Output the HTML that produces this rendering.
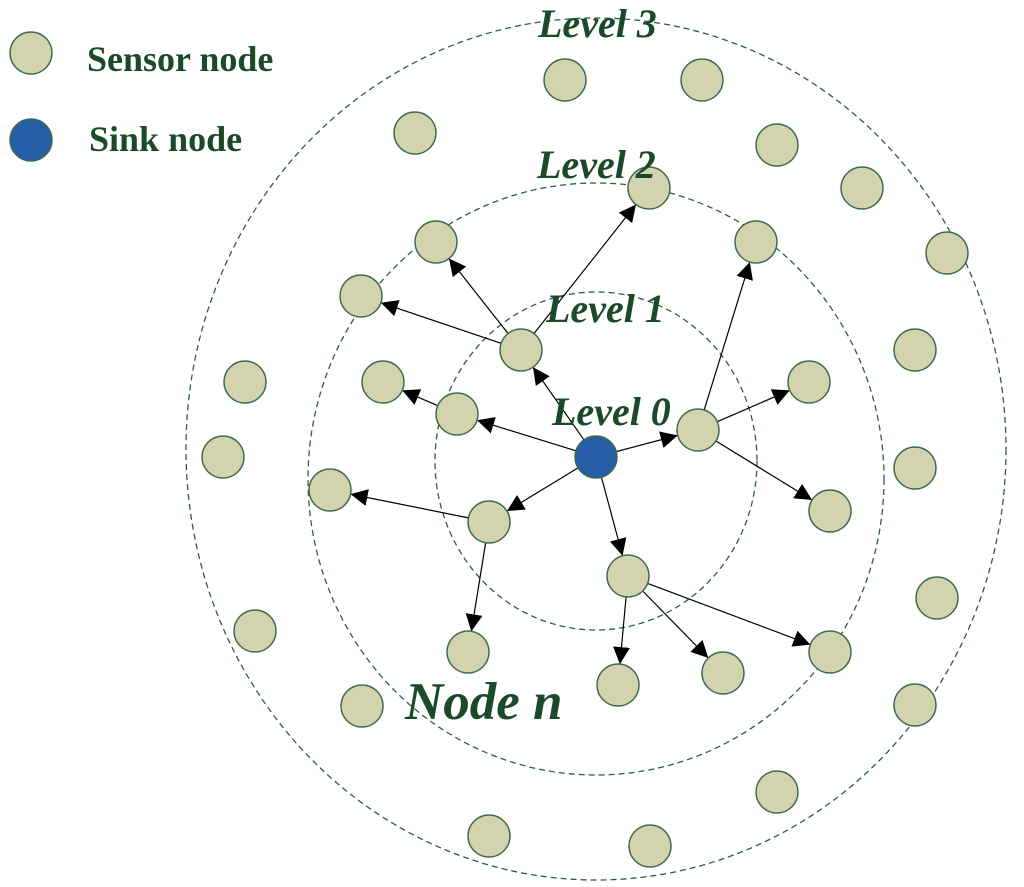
<!DOCTYPE html>
<html><head><meta charset="utf-8"><style>
html,body{margin:0;padding:0;background:#fff;}
svg{display:block;}
text{font-family:"Liberation Serif",serif;font-weight:bold;fill:#1b4a2a;}
</style></head><body>
<svg id="s" width="1024" height="887" viewBox="0 0 1024 887" xmlns="http://www.w3.org/2000/svg">
<defs><marker id="a" viewBox="0 0 10 10" refX="10" refY="5" markerWidth="17" markerHeight="17" markerUnits="userSpaceOnUse" orient="auto"><path d="M0,0 L10,5 L0,10 z" fill="#000"/></marker></defs>
<g fill="none" stroke="#2f5e42" stroke-width="1.3" stroke-dasharray="6,4">
<ellipse cx="596" cy="461" rx="161" ry="169"/>
<ellipse cx="596" cy="479" rx="288" ry="296"/>
<ellipse cx="596" cy="449" rx="410" ry="431"/>
</g>
<g id="lines" stroke="#000" stroke-width="1.2"></g>
<g id="nodes" fill="#d3d3ad" stroke="#3d6b4f" stroke-width="1.5"></g>
<circle cx="31" cy="53" r="21" fill="#d3d3ad" stroke="#3d6b4f" stroke-width="1.5"/>
<circle cx="31" cy="140" r="21" fill="#275da6" stroke="#3d6b4f" stroke-width="1.5"/>
<text x="87" y="71" font-size="36">Sensor node</text>
<text x="89" y="151" font-size="36">Sink  node</text>
<g font-style="italic">
<text x="538" y="37" font-size="40">Level 3</text>
<text x="537" y="178" font-size="40">Level 2</text>
<text x="546" y="322" font-size="40">Level 1</text>
<text x="552" y="425" font-size="40">Level 0</text>
<text x="405" y="719" font-size="53">Node n</text>
</g>
</svg>
<script>
var N=[[565,80],[702,80],[415,133],[777,145],[862,188],[947,253],[915,350],[245,382],[223,457],[915,468],[937,598],[255,631],[915,705],[362,706],[777,792],[489,836],[650,846],
[649,188],[436,242],[756,242],[361,296],[521,350],[383,382],[809,382],[457,414],[698,430],[330,490],[489,522],[830,511],[628,576],[468,652],[618,685],[723,673],[830,652]];
var S=[596,457],R=21;
var E=[[S,[457,414]],[S,[521,350]],[S,[698,430]],[S,[489,522]],[S,[628,576]],
[[521,350],[436,242]],[[521,350],[361,296]],[[521,350],[649,188]],
[[457,414],[383,382]],
[[698,430],[756,242]],[[698,430],[809,382]],[[698,430],[830,511]],
[[489,522],[330,490]],[[489,522],[468,652]],
[[628,576],[618,685]],[[628,576],[723,673]],[[628,576],[830,652]]];
var ns="http://www.w3.org/2000/svg",L=document.getElementById('lines'),G=document.getElementById('nodes');
E.forEach(function(e){var a=e[0],b=e[1],dx=b[0]-a[0],dy=b[1]-a[1],d=Math.hypot(dx,dy),ux=dx/d,uy=dy/d;
var l=document.createElementNS(ns,'line');l.setAttribute('x1',a[0]+ux*R);l.setAttribute('y1',a[1]+uy*R);
l.setAttribute('x2',b[0]-ux*R);l.setAttribute('y2',b[1]-uy*R);l.setAttribute('marker-end','url(#a)');L.appendChild(l);});
N.forEach(function(p){var c=document.createElementNS(ns,'circle');c.setAttribute('cx',p[0]);c.setAttribute('cy',p[1]);c.setAttribute('r',R);G.appendChild(c);});
var c=document.createElementNS(ns,'circle');c.setAttribute('cx',S[0]);c.setAttribute('cy',S[1]);c.setAttribute('r',R);c.setAttribute('fill','#275da6');G.appendChild(c);
</script>
</body></html>
